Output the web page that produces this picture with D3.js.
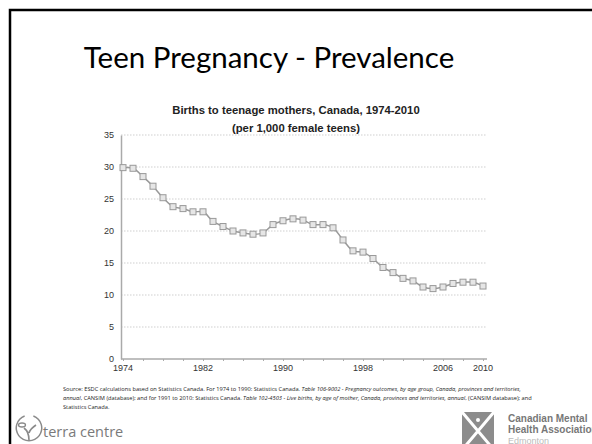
<!DOCTYPE html>
<html>
<head>
<meta charset="utf-8">
<script src="https://cdn.jsdelivr.net/npm/d3@7"></script>
<style>
  body { margin: 0; background: #fff; }
  svg { display: block; }
</style>
</head>
<body>
<svg id="slide"></svg>
<script>
// births per 1,000 female teens
var years = d3.range(1974, 2011);
var rates = [29.9, 29.8, 28.5, 27.0, 25.2, 23.8, 23.5, 23.0, 23.0, 21.5,
             20.7, 20.0, 19.7, 19.5, 19.7, 21.0, 21.6, 21.9, 21.7, 21.0,
             21.0, 20.5, 18.6, 16.9, 16.7, 15.7, 14.3, 13.5, 12.6, 12.2,
             11.25, 11.0, 11.25, 11.8, 12.0, 12.0, 11.4];
var xTickYears = [1974, 1982, 1990, 1998, 2006, 2010];
var yTicks = [0, 5, 10, 15, 20, 25, 30, 35];

var W = 592, H = 444;
var svg = d3.select("#slide").attr("width", W).attr("height", H);

// slide frame
svg.append("rect")
   .attr("x", 10).attr("y", 10)
   .attr("width", W + 20).attr("height", H + 20)
   .attr("fill", "none")
   .attr("stroke", "#000")
   .attr("stroke-width", 2.5);

// slide title
svg.append("text")
   .attr("x", 269).attr("y", 68)
   .attr("text-anchor", "middle")
   .style("font-family", "Lato, 'Open Sans', sans-serif")
   .style("font-size", "29.5px")
   .attr("fill", "#000")
   .text("Teen Pregnancy - Prevalence");

// chart titles
var titleStyle = function(t) {
  t.attr("text-anchor", "middle")
   .style("font-family", "'Liberation Sans', Arial, sans-serif")
   .style("font-weight", "bold")
   .style("font-size", "11.3px")
   .attr("fill", "#222");
};
svg.append("text").attr("x", 296).attr("y", 114).call(titleStyle)
   .text("Births to teenage mothers, Canada, 1974-2010");
svg.append("text").attr("x", 296).attr("y", 132).call(titleStyle)
   .text("(per 1,000 female teens)");

// plot area
var margin = {left: 121, top: 135, right: 105},
    plotBottom = 359;

var x = d3.scaleLinear()
          .domain([1974, 2010])
          .range([123, 483]);
var y = d3.scaleLinear()
          .domain([0, 35])
          .range([plotBottom, margin.top]);

// dotted gridlines
svg.append("g").selectAll("line")
   .data(yTicks.filter(function(d){ return d > 0; }))
   .enter().append("line")
   .attr("x1", margin.left).attr("x2", 487)
   .attr("y1", function(d){ return y(d); })
   .attr("y2", function(d){ return y(d); })
   .attr("stroke", "#cfcfcf")
   .attr("stroke-width", 1)
   .attr("stroke-dasharray", "1.5,1.5");

// y axis
var yAxis = svg.append("g")
   .attr("transform", "translate(" + margin.left + ",0)")
   .call(d3.axisLeft(y).tickValues(yTicks).tickSize(0).tickPadding(7));
yAxis.select(".domain").attr("stroke", "#aaa").attr("stroke-width", 1.5);
yAxis.selectAll("text")
     .style("font-family", "'Liberation Sans', Arial, sans-serif")
     .style("font-size", "9px")
     .attr("fill", "#333");

// x axis: small ticks, labels on chosen years
var xAxis = svg.append("g")
   .attr("transform", "translate(0," + plotBottom + ")")
   .call(d3.axisBottom(x).tickValues(d3.range(1974, 2011, 2)).tickSize(2).tickFormat(""));
xAxis.select(".domain").attr("d", "M" + margin.left + ",0H487").attr("stroke", "#aaa").attr("stroke-width", 1.5);
xAxis.selectAll(".tick line").attr("stroke", "#aaa");

svg.append("g").selectAll("text")
   .data(xTickYears)
   .enter().append("text")
   .attr("x", function(d){ return x(d); })
   .attr("y", plotBottom + 12)
   .attr("text-anchor", "middle")
   .style("font-family", "'Liberation Sans', Arial, sans-serif")
   .style("font-size", "9px")
   .attr("fill", "#333")
   .text(function(d){ return d; });

// smoothed line
var series = years.map(function(yr, i){ return {year: yr, rate: rates[i]}; });
var line = d3.line()
   .x(function(d){ return x(d.year); })
   .y(function(d){ return y(d.rate); })
   .curve(d3.curveCatmullRom.alpha(0.5));

svg.append("path")
   .datum(series)
   .attr("d", line)
   .attr("fill", "none")
   .attr("stroke", "#999")
   .attr("stroke-width", 1.5);

// square markers
var ms = 6;
svg.append("g").selectAll("rect")
   .data(series)
   .enter().append("rect")
   .attr("x", function(d){ return x(d.year) - ms / 2; })
   .attr("y", function(d){ return y(d.rate) - ms / 2; })
   .attr("width", ms).attr("height", ms)
   .attr("fill", "#e6e6e6")
   .attr("stroke", "#999")
   .attr("stroke-width", 1);

// source note
var src = svg.append("text")
   .style("font-family", "'Open Sans', sans-serif")
   .style("font-size", "5.7px")
   .attr("fill", "#222");
var srcLines = [
  [["Source: ESDC calculations based on Statistics Canada. For 1974 to 1990: Statistics Canada. ", false],
   ["Table 106-9002 - Pregnancy outcomes, by age group, Canada, provinces and territories,", true]],
  [["annual", true],
   [", CANSIM (database); and for 1991 to 2010: Statistics Canada. ", false],
   ["Table 102-4503 - Live births, by age of mother, Canada, provinces and territories, annual", true],
   [", (CANSIM database); and", false]],
  [["Statistics Canada.", false]]
];
srcLines.forEach(function(parts, i){
  parts.forEach(function(p, j){
    var ts = src.append("tspan").text(p[0]).style("font-style", p[1] ? "italic" : "normal");
    if (j === 0) ts.attr("x", 63).attr("y", 391 + i * 9);
  });
});

// terra centre logo
var logo = svg.append("g");
logo.append("path")
    .attr("d", d3.arc()({innerRadius: 12, outerRadius: 13.5, startAngle: 0.35, endAngle: 2 * Math.PI - 0.35}))
    .attr("transform", "translate(29,428)")
    .attr("fill", "#8a8a8a");
logo.append("path")
    .attr("d", "M29,440 C29,434 28,431 24,428 M29,433 C30,429 33,427 36,425")
    .attr("fill", "none").attr("stroke", "#8a8a8a").attr("stroke-width", 1.6);
logo.append("ellipse").attr("cx", 22).attr("cy", 425).attr("rx", 3.5).attr("ry", 2)
    .attr("fill", "none").attr("stroke", "#8a8a8a").attr("stroke-width", 1.3);
logo.append("text")
    .attr("x", 43).attr("y", 437)
    .style("font-family", "'Open Sans', sans-serif")
    .style("font-size", "14.5px")
    .attr("fill", "#7a7a7a")
    .text("terra centre");

// CMHA logo
var cm = svg.append("g");
cm.append("rect").attr("x", 462).attr("y", 412).attr("width", 32).attr("height", 40).attr("fill", "#8c8c8c");
cm.append("path").attr("d", "M462,412 L494,450 M494,412 L462,450")
  .attr("stroke", "#fff").attr("stroke-width", 3);
cm.append("circle").attr("cx", 478).attr("cy", 420).attr("r", 2).attr("fill", "#fff");
cm.append("text").attr("x", 508).attr("y", 422)
  .style("font-family", "'Liberation Sans', Arial, sans-serif")
  .style("font-weight", "bold").style("font-size", "10px")
  .attr("fill", "#777").text("Canadian Mental");
cm.append("text").attr("x", 508).attr("y", 433)
  .style("font-family", "'Liberation Sans', Arial, sans-serif")
  .style("font-weight", "bold").style("font-size", "10px")
  .attr("fill", "#777").text("Health Association");
cm.append("text").attr("x", 508).attr("y", 444)
  .style("font-family", "'Liberation Sans', Arial, sans-serif")
  .style("font-size", "9px")
  .attr("fill", "#bbb").text("Edmonton");
</script>
</body>
</html>
